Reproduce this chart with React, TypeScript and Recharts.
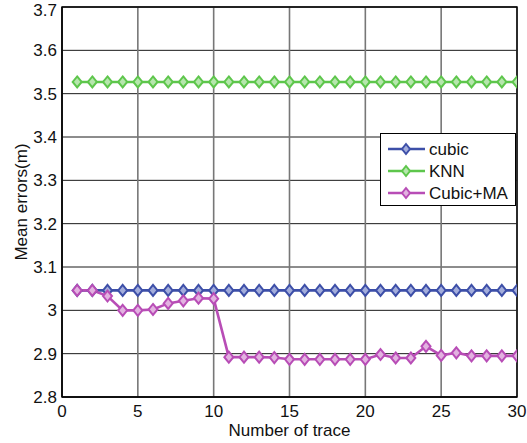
import React from 'react';
import { LineChart, Line, XAxis, YAxis, CartesianGrid, ReferenceArea, Legend } from 'recharts';

const traces = [1,2,3,4,5,6,7,8,9,10,11,12,13,14,15,16,17,18,19,20,21,22,23,24,25,26,27,28,29,30];
const cubic = [3.046,3.046,3.046,3.046,3.046,3.046,3.046,3.046,3.046,3.046,3.046,3.046,3.046,3.046,3.046,3.046,3.046,3.046,3.046,3.046,3.046,3.046,3.046,3.046,3.046,3.046,3.046,3.046,3.046,3.046];
const knn = [3.527,3.527,3.527,3.527,3.527,3.527,3.527,3.527,3.527,3.527,3.527,3.527,3.527,3.527,3.527,3.527,3.527,3.527,3.527,3.527,3.527,3.527,3.527,3.527,3.527,3.527,3.527,3.527,3.527,3.527];
const cubicMA = [3.046,3.046,3.033,3.000,3.000,3.002,3.016,3.022,3.028,3.027,2.892,2.892,2.892,2.891,2.887,2.887,2.887,2.887,2.887,2.887,2.898,2.890,2.890,2.917,2.896,2.902,2.895,2.895,2.895,2.895];

const xTicks = [0,5,10,15,20,25,30];
const yTicks = [2.8,2.9,3.0,3.1,3.2,3.3,3.4,3.5,3.6,3.7];

const seriesInfo = [
  { key: 'cubic', name: 'cubic', color: '#3d4fa8', fill: '#a3addb' },
  { key: 'knn', name: 'KNN', color: '#5ec64c', fill: '#b6e6ad' },
  { key: 'ma', name: 'Cubic+MA', color: '#b84db6', fill: '#e2b2e0' },
];

const data = traces.map((t, i) => ({ t, cubic: cubic[i], knn: knn[i], ma: cubicMA[i] }));

const FONT = 'Liberation Sans, Arial, sans-serif';
const FS = 17;

const makeDot = (color: string, fill: string) => (props: any) => {
  const { cx, cy, index } = props;
  if (cx == null || cy == null) return <g key={index} />;
  const w = 4.5, h = 5.5;
  return (
    <path
      key={index}
      d={`M${cx},${cy - h}L${cx + w},${cy}L${cx},${cy + h}L${cx - w},${cy}Z`}
      stroke={color}
      strokeWidth={2}
      fill={fill}
    />
  );
};

const LegendBox = () => (
  <svg width={137} height={74} style={{ display: 'block' }}>
    <rect x={0.5} y={0.5} width={135} height={72} fill="#fff" stroke="#000" strokeWidth={1} />
    {seriesInfo.map((s, i) => {
      const cy = 16 + i * 22;
      return (
        <g key={s.key}>
          <line x1={8} x2={45} y1={cy} y2={cy} stroke={s.color} strokeWidth={2.5} />
          <path d={`M26,${cy - 5}L30,${cy}L26,${cy + 5}L22,${cy}Z`} stroke={s.color} strokeWidth={2} fill={s.fill} />
          <text x={49} y={cy + 6} fontSize={FS} fontFamily={FONT} fill="#111">{s.name}</text>
        </g>
      );
    })}
  </svg>
);

const fmt = (v: number) => {
  const s = v.toFixed(1);
  return s.endsWith('.0') ? s.slice(0, -2) : s;
};

export default function App() {
  return (
    <div style={{ position: 'absolute', left: 0, top: 0, width: 527, height: 443, background: '#fff' }}>
      <LineChart width={527} height={443} data={data} margin={{ top: 7, right: 10, bottom: 0, left: 0 }}>
        <CartesianGrid horizontal={true} vertical={false} stroke="#1a1a1a" strokeWidth={1} horizontalValues={yTicks} />
        <CartesianGrid horizontal={false} vertical={true} stroke="#777" strokeWidth={1.6} verticalValues={xTicks} />
        <XAxis
          dataKey="t"
          type="number"
          domain={[0, 30]}
          ticks={xTicks}
          allowDataOverflow
          height={46}
          tickLine={false}
          tickSize={0}
          tickMargin={8}
          axisLine={{ stroke: '#000', strokeWidth: 1.2 }}
          tick={{ fill: '#111', fontSize: FS, fontFamily: FONT }}
          label={{ value: 'Number of trace', position: 'insideBottom', offset: 7, fill: '#111', fontSize: FS, fontFamily: FONT }}
        />
        <YAxis
          type="number"
          domain={[2.8, 3.7]}
          ticks={yTicks}
          allowDataOverflow
          width={62}
          tickLine={false}
          tickSize={0}
          tickMargin={5}
          tickFormatter={fmt}
          axisLine={{ stroke: '#000', strokeWidth: 1.2 }}
          tick={{ fill: '#111', fontSize: FS, fontFamily: FONT }}
          label={{ value: 'Mean errors(m)', angle: -90, position: 'insideLeft', offset: 21, fill: '#111', fontSize: FS, fontFamily: FONT, style: { textAnchor: 'middle' } }}
        />
        <ReferenceArea x1={0} x2={30} y1={2.8} y2={3.7} fill="none" stroke="#000" strokeWidth={1.4} ifOverflow="visible" />
        {seriesInfo.map((s) => (
          <Line
            key={s.key}
            dataKey={s.key}
            name={s.name}
            stroke={s.color}
            strokeWidth={2.6}
            isAnimationActive={false}
            dot={makeDot(s.color, s.fill)}
            activeDot={false}
          />
        ))}
        <Legend
          layout="vertical"
          align="center"
          verticalAlign="middle"
          wrapperStyle={{ position: 'absolute', left: 380, top: 133, width: 137, height: 74 }}
          content={() => <LegendBox />}
        />
      </LineChart>
    </div>
  );
}
